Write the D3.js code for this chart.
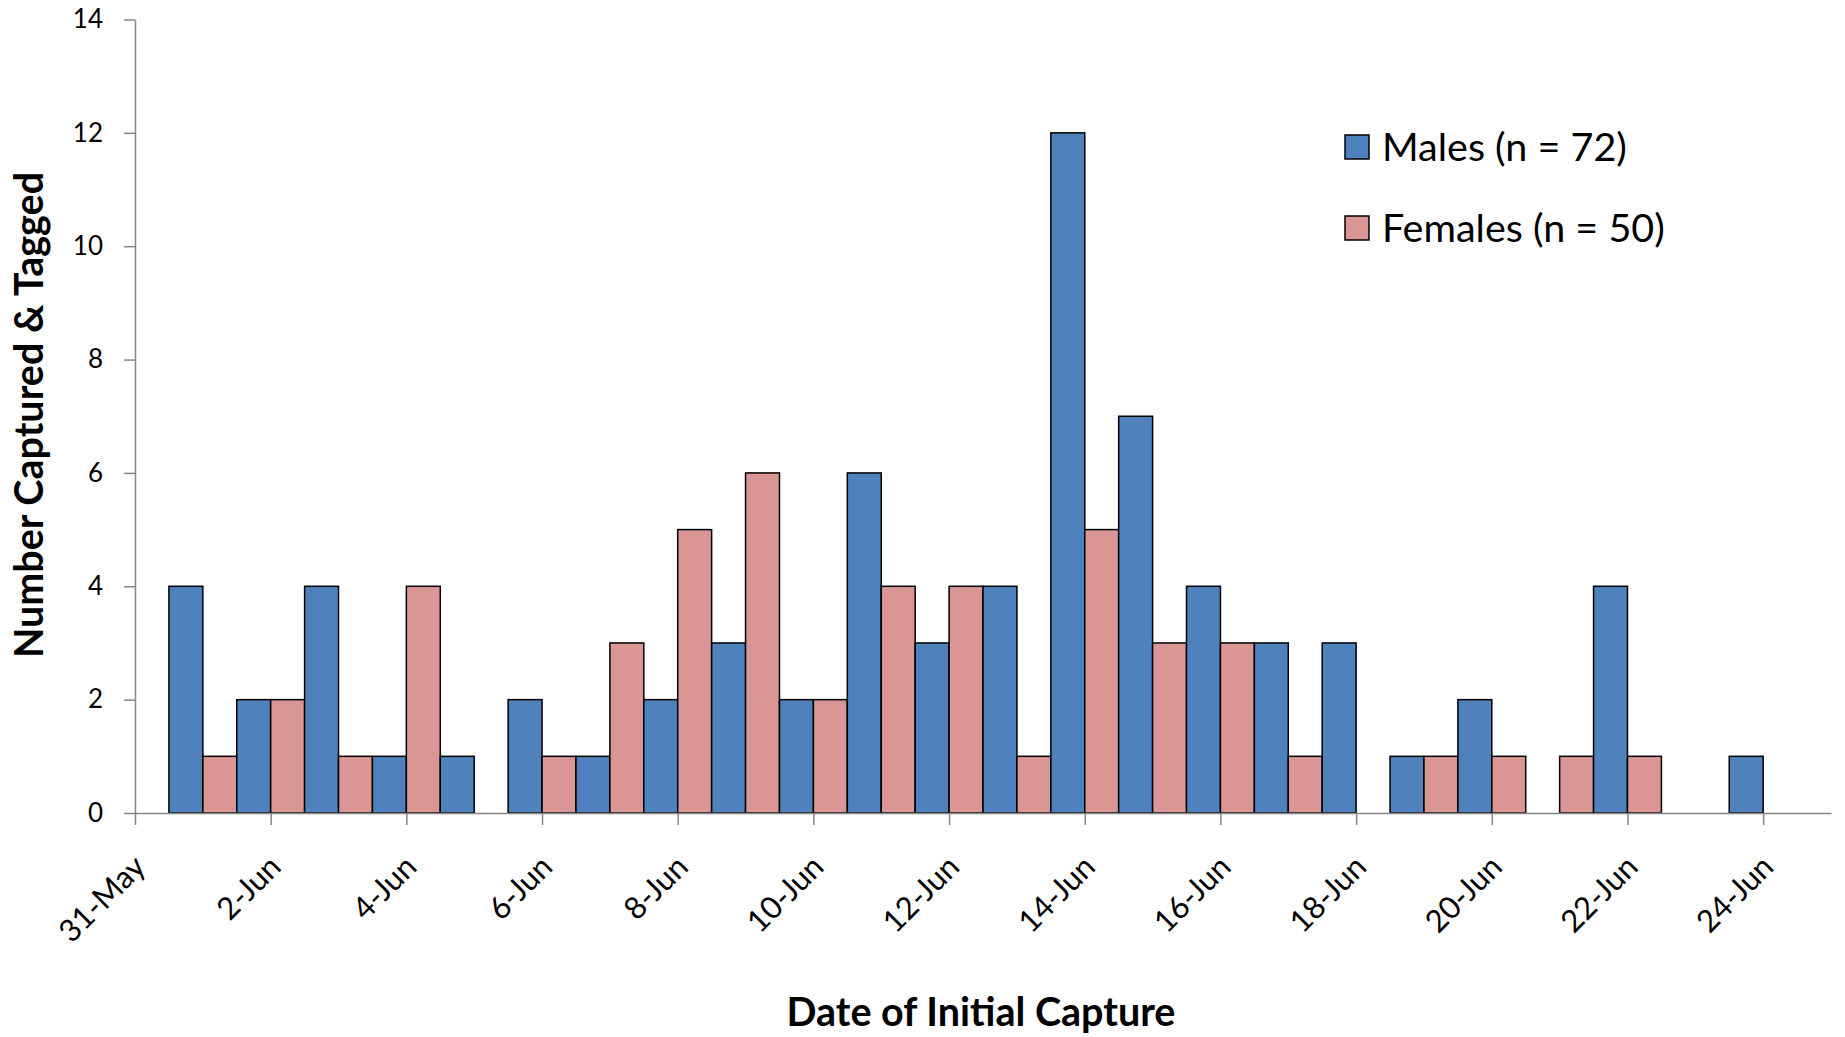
<!DOCTYPE html>
<html>
<head>
<meta charset="utf-8">
<script src="https://cdn.jsdelivr.net/npm/d3@7/dist/d3.min.js"></script>
<style>
  html, body { margin: 0; padding: 0; background: #fff; }
  svg { display: block; font-family: Lato, "Open Sans", sans-serif; }
</style>
</head>
<body>
<svg id="chart" width="1845" height="1037"></svg>
<script>
// Daily captures, 1 June – 24 June
const dates   = ["1-Jun","2-Jun","3-Jun","4-Jun","5-Jun","6-Jun","7-Jun","8-Jun","9-Jun","10-Jun",
                 "11-Jun","12-Jun","13-Jun","14-Jun","15-Jun","16-Jun","17-Jun","18-Jun","19-Jun","20-Jun",
                 "21-Jun","22-Jun","23-Jun","24-Jun"];
const males   = [4,2,4,1,1,2,1,2,3,2,6,3,4,12,7,4,3,3,1,2,0,4,0,1];
const females = [1,2,1,4,0,1,3,5,6,2,4,4,1,5,3,3,1,0,1,1,1,1,0,0];

const seriesNames = ["Males (n = 72)", "Females (n = 50)"];
const seriesColors = ["#4F81BD", "#D99694"];

const axisStart = "31-May";
const axisEnd = "25-Jun";
const yTicks = [0, 2, 4, 6, 8, 10, 12, 14];

const parse = d3.utcParse("%d-%b");
const fmt = d3.utcFormat("%-d-%b");

const svg = d3.select("#chart");
const plot = { left: 135, right: 1831, top: 19.5, bottom: 813 };

const x = d3.scaleUtc().domain([parse(axisStart), parse(axisEnd)]).range([plot.left, plot.right]);
const y = d3.scaleLinear().domain([0, 14]).range([plot.bottom, plot.top]);

const dayW = x(parse("2-Jun")) - x(parse("1-Jun"));

const rows = dates.map((d, i) => ({ date: parse(d), m: males[i], f: females[i] }));

// bars: males left of the date, females right of it
const bars = svg.append("g");
rows.forEach(r => {
  const cx = x(r.date);
  [[r.m, cx - dayW / 2, 0], [r.f, cx, 1]].forEach(([v, x0, s]) => {
    if (v > 0) {
      bars.append("rect")
        .attr("x", x0).attr("width", dayW / 2)
        .attr("y", y(v)).attr("height", y(0) - y(v))
        .attr("fill", seriesColors[s])
        .attr("stroke", "#000").attr("stroke-width", 1.5);
    }
  });
});

// y axis
const yAxis = svg.append("g")
  .attr("transform", `translate(${plot.left},0)`)
  .call(d3.axisLeft(y).tickValues(yTicks).tickSize(11).tickPadding(21).tickSizeOuter(0));
yAxis.select(".domain").attr("stroke", "#868686").attr("stroke-width", 1.5);
yAxis.selectAll(".tick line").attr("stroke", "#868686").attr("stroke-width", 1.5);
yAxis.selectAll(".tick text").attr("font-size", 26).attr("font-family", "Lato").attr("fill", "#000");

// x axis, a tick every second day
const xTickDates = d3.utcDay.range(parse(axisStart), parse(axisEnd), 2);
const xAxis = svg.append("g")
  .attr("transform", `translate(0,${plot.bottom})`)
  .call(d3.axisBottom(x).tickValues(xTickDates).tickFormat(fmt).tickSize(12).tickSizeOuter(0));
xAxis.select(".domain").attr("stroke", "#868686").attr("stroke-width", 1.5);
xAxis.selectAll(".tick line").attr("stroke", "#868686").attr("stroke-width", 1.5);
xAxis.selectAll(".tick text")
  .attr("font-size", 31).attr("font-family", "Lato").attr("fill", "#000")
  .attr("text-anchor", "end")
  .attr("y", 0).attr("dy", "0.35em")
  .attr("transform", "translate(4,48) rotate(-45)");

// axis titles
svg.append("text")
  .attr("x", 981).attr("y", 1026)
  .attr("text-anchor", "middle")
  .attr("font-size", 39.5).attr("font-weight", "bold")
  .text("Date of Initial Capture");

svg.append("text")
  .attr("transform", `translate(43,415) rotate(-90)`)
  .attr("text-anchor", "middle")
  .attr("font-size", 39.5).attr("font-weight", "bold")
  .text("Number Captured & Tagged");

// legend
const legend = svg.append("g").attr("transform", "translate(1345,0)");
seriesNames.forEach((name, i) => {
  const cy = 147 + i * 81;
  legend.append("rect")
    .attr("x", 0).attr("y", cy - 12).attr("width", 24).attr("height", 24)
    .attr("fill", seriesColors[i]).attr("stroke", "#000").attr("stroke-width", 1.5);
  legend.append("text")
    .attr("x", 37).attr("y", cy).attr("dy", "0.36em")
    .attr("font-size", 39.5)
    .text(name);
});
</script>
</body>
</html>
